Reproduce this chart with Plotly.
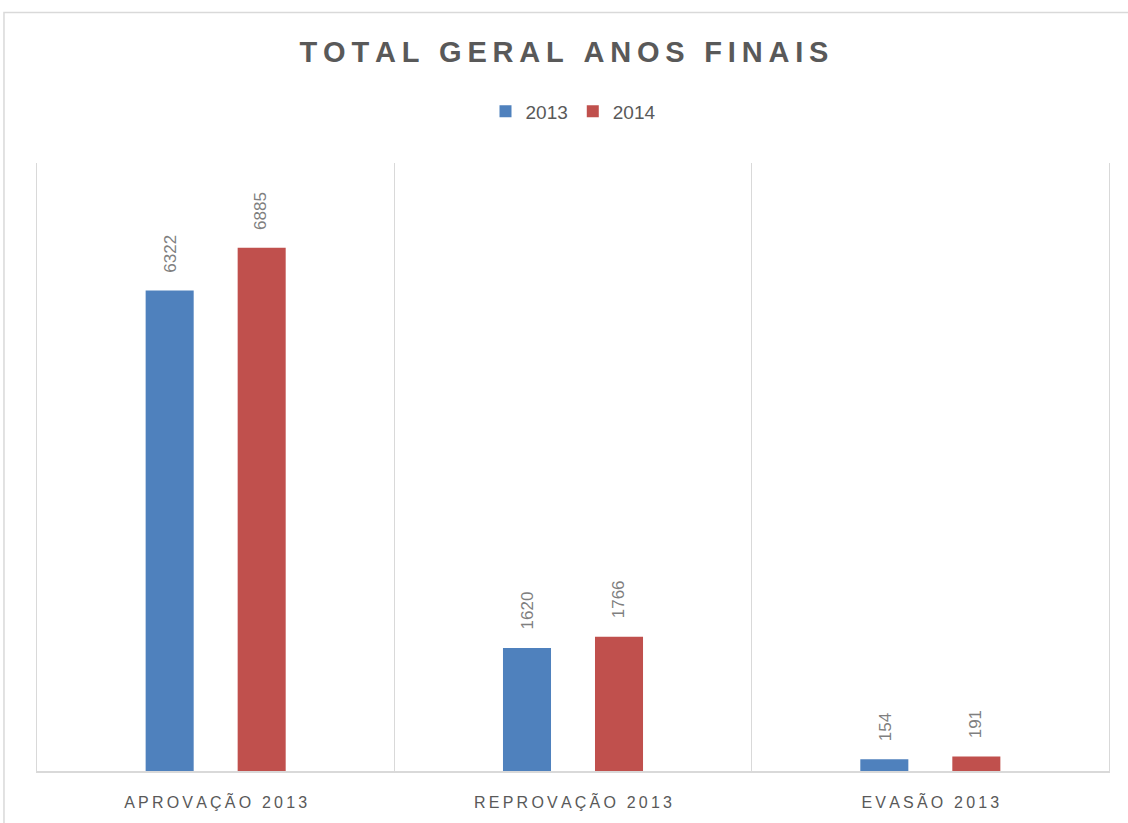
import plotly.graph_objects as go

categories = ["APROVAÇÃO 2013", "REPROVAÇÃO 2013", "EVASÃO 2013"]
series_names = ["2013", "2014"]
values_2013 = [6322, 1620, 154]
values_2014 = [6885, 1766, 191]

colors = ["#4F81BD", "#C0504D"]
grey = "#595959"
font = "Liberation Sans, Arial, sans-serif"


def spaced(s):
    # imitate the wide letter spacing of the original with thin spaces
    return "\u2009".join(s)


fig = go.Figure()
for name, vals, col in zip(series_names, [values_2013, values_2014], colors):
    fig.add_trace(go.Bar(x=categories, y=vals, name=name, marker_color=col,
                         marker_line_width=0))

# rotated value labels above each bar
shifts = [-45.5, 45.5]
for vals, dx in zip([values_2013, values_2014], shifts):
    for c, v in zip(categories, vals):
        fig.add_annotation(x=c, y=v, text=str(v), textangle=-90, showarrow=False,
                           xanchor="center", yanchor="bottom", xshift=dx, yshift=16,
                           font=dict(size=17, color="#7f7f7f", family=font))

fig.update_layout(
    width=1128, height=823,
    paper_bgcolor="white", plot_bgcolor="white",
    margin=dict(l=37, r=19, t=163, b=48),
    barmode="group", bargap=0.485, bargroupgap=0.478,
    title=dict(text="<b>" + spaced("TOTAL GERAL ANOS FINAIS") + "</b>",
               x=0.5, xanchor="center", y=0.937, yanchor="middle", yref="container",
               font=dict(size=29, color=grey, family=font)),
    legend=dict(orientation="h", x=0.5, xanchor="center", y=1.085, yanchor="middle",
                font=dict(size=19, color=grey, family=font), itemwidth=30),
    showlegend=True,
)
fig.update_xaxes(
    tickson="boundaries", showgrid=True, gridcolor="#d9d9d9", gridwidth=1,
    showline=True, linecolor="#d9d9d9", linewidth=1.5, ticks="",
    tickvals=categories, ticktext=[spaced(c) for c in categories],
    tickfont=dict(size=16, color=grey, family=font), ticklabelstandoff=16,
)
fig.update_yaxes(range=[0, 8000], showgrid=False, showticklabels=False, zeroline=False,
                 showline=True, mirror=True, linecolor="#d9d9d9", linewidth=1, ticks="")

# outer chart border (runs off the right and bottom like the original)
fig.add_shape(type="rect", xref="paper", yref="paper", x0=-0.0308, y0=-0.3,
              x1=1.2, y1=1.2475, line=dict(color="#d9d9d9", width=1.5), layer="below")

fig.write_html("out.html", config={"displayModeBar": False},
               post_script="document.body.style.margin='0';")
